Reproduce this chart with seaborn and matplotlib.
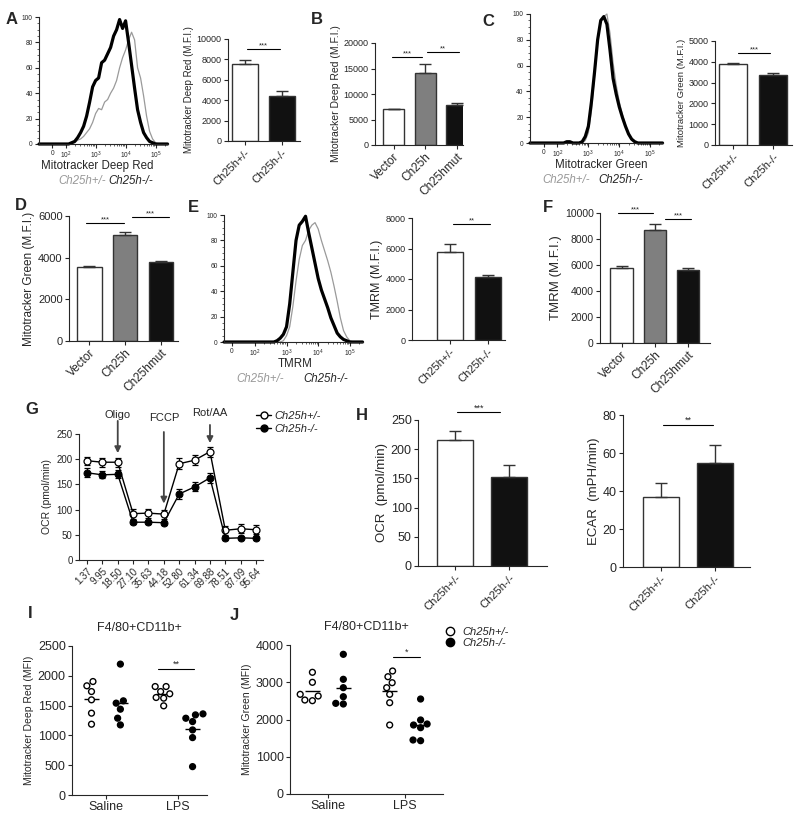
import numpy as np
import pandas as pd
import matplotlib
matplotlib.use('Agg')
import matplotlib.pyplot as plt
import seaborn as sns
from matplotlib.ticker import MultipleLocator
from matplotlib.lines import Line2D

sns.set_style("ticks")
plt.rcParams['font.family'] = ['Liberation Sans', 'DejaVu Sans']
plt.rcParams['mathtext.fontset'] = 'custom'
plt.rcParams['mathtext.rm'] = 'Liberation Sans'
plt.rcParams['mathtext.it'] = 'Liberation Sans:italic'
plt.rcParams['axes.linewidth'] = 0.8

# ---------------- data ----------------
geno = ['Ch25h+/-', 'Ch25h-/-']
constructs = ['Vector', 'Ch25h', 'Ch25hmut']

# histogram bins, log10 of fluorescence
hist_log = [2.0, 2.1, 2.2, 2.3, 2.4, 2.5, 2.6, 2.7, 2.8, 2.9,
            3.0, 3.1, 3.2, 3.3, 3.4, 3.5, 3.6, 3.7, 3.8, 3.9,
            4.0, 4.1, 4.2, 4.3, 4.4, 4.5, 4.6, 4.7, 4.8, 4.9,
            5.0, 5.1, 5.2, 5.3, 5.4]
a_het = [0, 0, 0, 1, 3, 4, 6, 9, 12, 17, 24, 28, 27, 33, 35, 40, 44, 50, 60, 68,
         74, 82, 88, 82, 60, 52, 38, 22, 10, 4, 1, 0, 0, 0, 0]
a_ko = [0, 0, 1, 2, 5, 9, 14, 22, 33, 45, 50, 52, 64, 66, 71, 76, 85, 90, 98, 91,
        97, 80, 62, 44, 27, 17, 9, 5, 2, 1, 0, 0, 0, 0, 0]
c_het = [0, 0, 0, 0, 0, 0, 0, 0, 0, 2, 8, 25, 52, 78, 95, 98, 100, 85, 62, 45,
         32, 22, 14, 7, 3, 1, 0, 0, 0, 0, 0, 0, 0, 0, 0]
c_ko = [0, 0, 0, 1, 1, 0, 0, 0, 1, 5, 13, 32, 55, 80, 95, 98, 92, 72, 50, 38,
        28, 20, 13, 7, 3, 1, 0, 0, 0, 0, 0, 0, 0, 0, 0]
e_het = [0, 0, 0, 0, 0, 0, 0, 0, 0, 1, 5, 12, 28, 48, 65, 76, 80, 88, 92, 94,
         89, 80, 72, 64, 55, 44, 32, 19, 9, 4, 1, 0, 0, 0, 0]
e_ko = [0, 0, 0, 0, 0, 0, 0, 1, 3, 6, 12, 30, 55, 80, 92, 95, 99, 86, 74, 62,
        50, 41, 34, 27, 19, 13, 7, 4, 2, 1, 0, 0, 0, 0, 0]

a_mean, a_err = [7550, 4400], [380, 480]
b_mean, b_err = [7000, 14100, 7900], [120, 1800, 400]
c_mean, c_err = [3900, 3380], [30, 100]
d_mean, d_err = [3570, 5100, 3800], [20, 130, 25]
e_mean, e_err = [5750, 4150], [550, 100]
f_mean, f_err = [5800, 8700, 5620], [150, 450, 180]
ocr_mean, ocr_err = [215, 153], [17, 20]
ecar_mean, ecar_err = [37, 55], [7, 9]

seahorse_time = ['1.37', '9.95', '18.50', '27.10', '35.63', '44.18',
                 '52.80', '61.34', '69.88', '78.51', '87.09', '95.64']
ocr_het = [197, 194, 194, 92, 93, 91, 191, 198, 215, 59, 62, 60]
ocr_het_err = [8, 9, 9, 10, 9, 9, 11, 10, 10, 9, 9, 9]
ocr_ko = [173, 169, 170, 75, 75, 74, 131, 145, 163, 43, 44, 43]
ocr_ko_err = [9, 7, 8, 4, 3, 4, 10, 9, 10, 4, 3, 3]

treatments = ['Saline', 'LPS']
i_sal_het = [1904, 1832, 1736, 1597, 1373, 1188]
i_sal_ko = [2196, 1580, 1541, 1440, 1289, 1176]
i_lps_het = [1820, 1820, 1736, 1698, 1636, 1625, 1496]
i_lps_ko = [1361, 1344, 1288, 1232, 1092, 963, 476]
j_sal_het = [3267, 2998, 2676, 2631, 2523, 2505]
j_sal_ko = [3750, 3079, 2854, 2612, 2434, 2416]
j_lps_het = [3302, 3149, 2988, 2854, 2676, 2451, 1852]
j_lps_ko = [2550, 1987, 1879, 1852, 1780, 1450, 1431]

WHITE, GRAY, BLACK, EDGE = '#ffffff', '#7f7f7f', '#111111', '#333333'

# ---------------- figure ----------------
W, H = 800, 819
fig = plt.figure(figsize=(W / 100, H / 100), dpi=100)


def box(x0, y0, x1, y1):
    return [x0 / W, 1 - y1 / H, (x1 - x0) / W, (y1 - y0) / H]


def ftext(x, y, s, **kw):
    kw.setdefault('ha', 'center')
    kw.setdefault('va', 'center')
    fig.text(x / W, 1 - y / H, s, **kw)


def style(ax, fs):
    sns.despine(ax=ax)
    ax.tick_params(direction='out', length=3, width=0.8, labelsize=fs, pad=1.5)


def sig(ax, x0, x1, y, txt, fs=5.5):
    ax.plot([x0, x1], [y, y], color='k', lw=0.8, clip_on=False)
    ax.text((x0 + x1) / 2, y, txt, ha='center', va='bottom', fontsize=fs)


def hist_panel(rect, het, ko, linscale, left, fs=4.8):
    ax = fig.add_axes(box(*rect))
    xs = np.concatenate([[left, 0.0], 10.0 ** np.array(hist_log)])
    sns.lineplot(x=xs, y=[0, 0] + het, color='#9a9a9a', lw=0.9, ax=ax)
    sns.lineplot(x=xs, y=[0, 0] + ko, color='black', lw=2.3, ax=ax)
    for ln in ax.lines:
        ln.set_clip_on(False)
    ax.set_xscale('symlog', linthresh=100, linscale=linscale)
    ax.set_xlim(left, 2.6e5)
    ax.set_ylim(0, 100)
    ax.set_xticks([0, 1e2, 1e3, 1e4, 1e5],
                  labels=['0', '$10^2$', '$10^3$', '$10^4$', '$10^5$'])
    ax.set_xticks([m * 10 ** d for d in (2, 3, 4, 5) for m in range(2, 10)
                   if m * 10 ** d < 2.6e5], minor=True)
    ax.set_yticks([0, 20, 40, 60, 80, 100])
    ax.yaxis.set_minor_locator(MultipleLocator(5))
    style(ax, fs)
    ax.tick_params(axis='x', pad=1)
    ax.tick_params(which='minor', direction='out', length=1.5, width=0.5)
    ax.set_xlabel('')
    ax.set_ylabel('')
    return ax


def bar_panel(rect, cats, means, errs, colors, ylim, ystep, ylabel, xlim,
              width=0.68, fs=6, lfs=7, cfs=8):
    ax = fig.add_axes(box(*rect))
    sns.barplot(x=cats, y=means, order=cats, hue=cats, hue_order=cats,
                palette=colors, saturation=1, edgecolor=EDGE, linewidth=1.0,
                width=width, legend=False, errorbar=None, ax=ax)
    ax.errorbar(range(len(cats)), means, yerr=[[0] * len(cats), errs],
                fmt='none', ecolor=EDGE, elinewidth=1.0, capsize=4, capthick=1.0)
    ax.set_ylim(*ylim)
    ax.set_yticks(np.arange(ylim[0], ylim[1] + 1, ystep))
    ax.set_xlim(*xlim)
    ax.set_ylabel(ylabel, fontsize=lfs, labelpad=2)
    ax.set_xlabel('')
    style(ax, fs)
    ax.set_xticks(range(len(cats)))
    ax.set_xticklabels(cats, rotation=45, ha='right', rotation_mode='anchor',
                       fontsize=cfs)
    return ax


# ---------- A ----------
hist_panel((39, 17, 168, 144), a_het, a_ko, 0.4, -100)
ftext(97, 166, 'Mitotracker Deep Red', fontsize=8.3)
ftext(82, 181, 'Ch25h+/-', fontsize=8.3, style='italic', color='#999999')
ftext(131, 181, 'Ch25h-/-', fontsize=8.3, style='italic')
ax = bar_panel((228, 39, 300, 141), geno, a_mean, a_err, [WHITE, BLACK],
               (0, 10000), 2000, 'Mitotracker Deep Red (M.F.I.)', (-0.46, 1.49),
               width=0.7, fs=6.5, lfs=7, cfs=8)
sig(ax, 0.05, 0.95, 9000, '***')

# ---------- B ----------
ax = bar_panel((375, 43, 463, 145), constructs, b_mean, b_err, [WHITE, GRAY, BLACK],
               (0, 20000), 5000, 'Mitotracker Deep Red (M.F.I.)', (-0.59, 2.2),
               width=0.67, fs=6.5, lfs=7.5, cfs=8.5)
sig(ax, -0.05, 0.9, 17250, '***')
sig(ax, 1.05, 2.08, 18240, '**')

# ---------- C ----------
hist_panel((530, 14, 663, 143), c_het, c_ko, 0.4, -100)
ftext(601, 165, 'Mitotracker Green', fontsize=8.3)
ftext(566, 180, 'Ch25h+/-', fontsize=8.3, style='italic', color='#999999')
ftext(621, 180, 'Ch25h-/-', fontsize=8.3, style='italic')
ax = bar_panel((715, 41, 792, 145), geno, c_mean, c_err, [WHITE, BLACK],
               (0, 5000), 1000, 'Mitotracker Green (M.F.I.)', (-0.45, 1.47),
               width=0.7, fs=6.5, lfs=6.8, cfs=8)
sig(ax, 0.12, 0.93, 4420, '***')

# ---------- D ----------
ax = bar_panel((69, 216, 178, 341), constructs, d_mean, d_err, [WHITE, GRAY, BLACK],
               (0, 6000), 2000, 'Mitotracker Green (M.F.I.)', (-0.57, 2.48),
               width=0.68, fs=8, lfs=8.5, cfs=8.5)
sig(ax, -0.1, 0.97, 5660, '***')
sig(ax, 1.19, 2.23, 5950, '***')

# ---------- E ----------
hist_panel((224, 215, 363, 342), e_het, e_ko, 0.65, -35)
ftext(295, 364, 'TMRM', fontsize=8.3)
ftext(260, 379, 'Ch25h+/-', fontsize=8.3, style='italic', color='#999999')
ftext(326, 379, 'Ch25h-/-', fontsize=8.3, style='italic')
ax = bar_panel((412, 218, 505, 340), geno, e_mean, e_err, [WHITE, BLACK],
               (0, 8000), 2000, 'TMRM (M.F.I.)', (-1.0, 1.45),
               width=0.68, fs=6.5, lfs=9, cfs=8)
sig(ax, 0.08, 1.05, 7600, '**')

# ---------- F ----------
ax = bar_panel((600, 213, 710, 343), constructs, f_mean, f_err, [WHITE, GRAY, BLACK],
               (0, 10000), 2000, 'TMRM (M.F.I.)', (-0.65, 2.66),
               width=0.68, fs=7.5, lfs=9.5, cfs=8.5)
sig(ax, -0.1, 0.95, 10000, '***')
sig(ax, 1.3, 2.1, 9540, '***')

# ---------- G ----------
ax = fig.add_axes(box(79, 434, 263, 560))
idx = np.arange(len(seahorse_time))
ax.errorbar(idx, ocr_het, yerr=ocr_het_err, fmt='none', ecolor='black',
            elinewidth=0.9, capsize=2.5, capthick=0.9)
ax.errorbar(idx, ocr_ko, yerr=ocr_ko_err, fmt='none', ecolor='black',
            elinewidth=0.9, capsize=2.5, capthick=0.9)
sns.lineplot(x=idx, y=ocr_het, color='black', lw=1.0, marker='o', markersize=5,
             markerfacecolor='white', markeredgecolor='black', markeredgewidth=0.9, ax=ax)
sns.lineplot(x=idx, y=ocr_ko, color='black', lw=1.0, marker='o', markersize=5,
             markerfacecolor='black', markeredgecolor='black', ax=ax)
ax.set_xlim(-0.52, 11.45)
ax.set_ylim(0, 250)
ax.set_yticks(range(0, 251, 50))
ax.set_xticks(idx)
ax.set_xticklabels(seahorse_time, rotation=45, ha='right', rotation_mode='anchor',
                   fontsize=6.5)
ax.set_ylabel('OCR (pmol/min)', fontsize=7.5, labelpad=3)
style(ax, 7)
arrow = dict(arrowstyle='-|>', color='#444444', lw=1.3, mutation_scale=9,
             shrinkA=0, shrinkB=0)
for xi, y_top, y_tip in [(2, 276, 212), (5, 254, 112), (8, 268, 232)]:
    ax.annotate('', xy=(xi, y_tip), xytext=(xi, y_top), arrowprops=arrow,
                annotation_clip=False)
ax.text(2, 288, 'Oligo', ha='center', va='center', fontsize=8, clip_on=False)
ax.text(5, 282, 'FCCP', ha='center', va='center', fontsize=8, clip_on=False)
ax.text(8, 292, 'Rot/AA', ha='center', va='center', fontsize=8, clip_on=False)
handles = [Line2D([], [], color='black', lw=1, marker='o', markersize=5,
                  markerfacecolor='white'),
           Line2D([], [], color='black', lw=1, marker='o', markersize=5,
                  markerfacecolor='black')]
ax.legend(handles, geno, loc='upper left', bbox_to_anchor=(0.94, 1.22),
          frameon=False, prop={'style': 'italic', 'size': 8}, handlelength=1.3,
          handletextpad=0.3, labelspacing=0.3, borderaxespad=0)

# ---------- H ----------
ax = bar_panel((418, 420, 547, 566), geno, ocr_mean, ocr_err, [WHITE, BLACK],
               (0, 250), 50, 'OCR  (pmol/min)', (-0.68, 1.69),
               width=0.66, fs=9, lfs=9.5, cfs=8)
sig(ax, 0.04, 0.83, 263, '***', fs=6.5)
ax = bar_panel((623, 415, 750, 567), geno, ecar_mean, ecar_err, [WHITE, BLACK],
               (0, 80), 20, 'ECAR  (mPH/min)', (-0.7, 1.65),
               width=0.67, fs=9, lfs=9.5, cfs=8)
sig(ax, 0.04, 0.96, 74.7, '**', fs=6.5)


# ---------- I & J ----------
def dot_panel(rect, groups, ylim, ystep, ylabel, xlim):
    ax = fig.add_axes(box(*rect))
    rows = []
    for treat, g, vals in groups:
        rows += [{'treatment': treat, 'genotype': g, 'value': v} for v in vals]
    df = pd.DataFrame(rows)
    sns.swarmplot(data=df, x='treatment', y='value', hue='genotype',
                  order=treatments, hue_order=geno, dodge=True,
                  palette={geno[0]: 'white', geno[1]: 'black'}, edgecolor='black',
                  linewidth=1.0, size=4.2, legend=False, ax=ax)
    for (treat, g), sub in df.groupby(['treatment', 'genotype']):
        pos = treatments.index(treat) + (-0.2 if g == geno[0] else 0.2)
        ax.hlines(sub['value'].mean(), pos - 0.1, pos + 0.1, color='black', lw=1.0)
    ax.set_ylim(*ylim)
    ax.set_yticks(np.arange(ylim[0], ylim[1] + 1, ystep))
    ax.set_xlim(*xlim)
    ax.set_xlabel('')
    ax.set_ylabel(ylabel, fontsize=7.5, labelpad=3)
    style(ax, 9)
    ax.set_title('F4/80+CD11b+', fontsize=9, pad=11)
    return ax


ax = dot_panel((72, 646, 207, 795),
               [('Saline', geno[0], i_sal_het), ('Saline', geno[1], i_sal_ko),
                ('LPS', geno[0], i_lps_het), ('LPS', geno[1], i_lps_ko)],
               (0, 2500), 500, 'Mitotracker Deep Red (MFI)', (-0.47, 1.4))
sig(ax, 0.72, 1.22, 2118, '**', fs=6.5)

ax = dot_panel((290, 645, 443, 794),
               [('Saline', geno[0], j_sal_het), ('Saline', geno[1], j_sal_ko),
                ('LPS', geno[0], j_lps_het), ('LPS', geno[1], j_lps_ko)],
               (0, 4000), 1000, 'Mitotracker Green (MFI)', (-0.49, 1.49))
sig(ax, 0.84, 1.19, 3678, '*', fs=6.5)
handles = [Line2D([], [], ls='none', marker='o', markersize=6,
                  markerfacecolor='white', markeredgecolor='black'),
           Line2D([], [], ls='none', marker='o', markersize=6,
                  markerfacecolor='black', markeredgecolor='black')]
ax.legend(handles, geno, loc='upper left', bbox_to_anchor=(0.98, 1.15),
          frameon=False, prop={'style': 'italic', 'size': 8}, handlelength=1.0,
          handletextpad=0.6, labelspacing=0.05, borderaxespad=0)

# ---------- panel letters ----------
for s, x, y in [('A', 12, 20), ('B', 317, 19), ('C', 488, 21), ('D', 21, 206),
                ('E', 193, 207), ('F', 548, 208), ('G', 32, 410), ('H', 362, 415),
                ('I', 30, 613), ('J', 234, 615)]:
    ftext(x, y, s, fontsize=12, fontweight='bold')

fig.savefig('out.png', dpi=100)
